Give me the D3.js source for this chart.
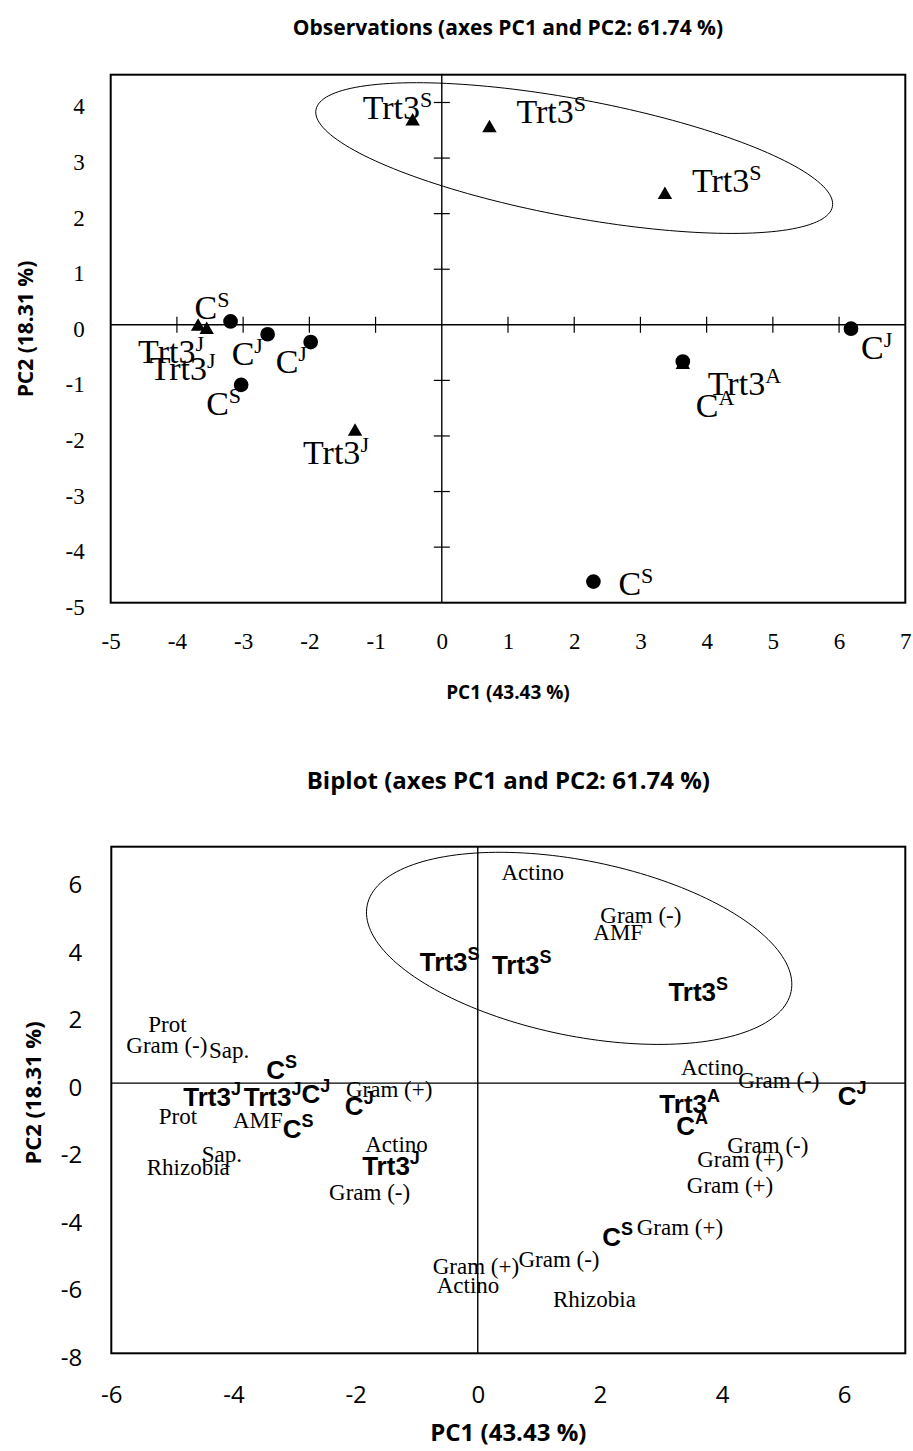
<!DOCTYPE html>
<html>
<head>
<meta charset="utf-8">
<script src="https://cdn.jsdelivr.net/npm/d3@7"></script>
<style>
  body { margin: 0; background: #fff; }
  .title { font-family: "Open Sans", sans-serif; font-weight: bold; }
</style>
</head>
<body>
<div id="chart"></div>
<script>
// ---- observations chart (PC1 / PC2 scores) ----
const obsNames = ['C','C','C','C','C','C','C','Trt3','Trt3','Trt3','Trt3','Trt3','Trt3','Trt3'];
const obsSup   = ['S','J','J','S','J','A','S','S','S','S','J','J','J','A'];
const obsPC1   = [-3.19,-2.63,-1.98,-3.03,6.18,3.64,2.29,-0.44,0.72,3.37,-3.68,-3.55,-1.31,3.64];
const obsPC2   = [0.06,-0.17,-0.31,-1.08,-0.07,-0.66,-4.62,3.66,3.54,2.34,-0.03,-0.09,-1.92,-0.72];
const obsShape = ['circle','circle','circle','circle','circle','circle','circle',
                  'triangle','triangle','triangle','triangle','triangle','triangle','triangle'];
// label placement (pixels from the point: start x, baseline y)
const obsLabelOffset = [[-36,-2],[-36,31],[-35,31],[-35,30],[10,30],[13,56],[25,13],
                        [-50,-2],[27,-5],[27,-3],[-60,37],[-57,50],[-52,32],[25,30]];

const obsTicksX = [-5,-4,-3,-2,-1,0,1,2,3,4,5,6,7];
const obsTicksY = [-5,-4,-3,-2,-1,0,1,2,3,4];
const obsEllipseCenter = [2.0, 3.0];
const obsEllipseAxes = [[3.9,-0.87],[-0.16,-1.04]];

// ---- biplot ----
const bipObsNames = ['C','Trt3','Trt3','C','C','C','Trt3','Trt3','Trt3','Trt3','Trt3','C','C','C'];
const bipObsSup   = ['S','J','J','J','J','S','J','S','S','S','A','A','J','S'];
const bipObsPC1   = [-3.21,-4.35,-3.36,-2.65,-1.94,-2.94,-1.42,-0.46,0.72,3.61,3.47,3.51,6.13,2.29];
const bipObsPC2   = [0.39,-0.40,-0.40,-0.32,-0.67,-1.36,-2.45,3.60,3.51,2.69,-0.62,-1.26,-0.38,-4.57];

const varNames = ['Prot','Gram (-)','Sap.','Gram (+)','Prot','AMF','Sap.','Rhizobia','Actino','Gram (-)',
                  'Gram (+)','Actino','Gram (-)','Gram (+)','Rhizobia','Gram (-)','Gram (+)','Gram (+)',
                  'Actino','Gram (-)','AMF','Actino','Gram (-)'];
const varPC1 = [-5.08,-5.09,-4.07,-1.45,-4.91,-3.60,-4.19,-4.74,-1.33,-1.77,
                -0.03,-0.16,1.33,3.31,1.91,4.75,4.30,4.13,
                0.90,2.67,2.30,3.84,4.93];
const varPC2 = [1.74,1.13,0.99,-0.17,-0.96,-1.10,-2.09,-2.49,-1.80,-3.23,
                -5.40,-5.99,-5.20,-4.26,-6.39,-1.84,-2.24,-3.03,
                6.24,4.98,4.47,0.47,0.08];

const bipTicksX = [-6,-4,-2,0,2,4,6];
const bipTicksY = [-8,-6,-4,-2,0,2,4,6];
const bipEllipseCenter = [1.66, 3.99];
const bipEllipseAxes = [[3.47,-1.28],[-0.29,-2.54]];

const width = 913, height = 1451;
const serif = '"Liberation Serif", "Times New Roman", serif';
const sans = '"Open Sans", sans-serif';

const svg = d3.select('#chart').append('svg')
    .attr('width', width).attr('height', height);

function ellipsePath(x, y, center, axes){
    let t = d3.range(0, 2*Math.PI + 0.01, Math.PI/90);
    return d3.line()
        .x(a => x(center[0] + axes[0][0]*Math.cos(a) + axes[1][0]*Math.sin(a)))
        .y(a => y(center[1] + axes[0][1]*Math.cos(a) + axes[1][1]*Math.sin(a)))(t);
}

// o: tick font/size/padding and title placement
function frame(g, x, y, ticksX, ticksY, o){
    let [x0, x1] = x.range(), [y0, y1] = y.range();

    // tick labels outside the frame
    g.append('g').attr('transform', `translate(0,${y0})`)
        .call(d3.axisBottom(x).tickValues(ticksX).tickSize(0).tickPadding(o.xPad).tickFormat(d => String(d)))
        .call(a => a.select('.domain').remove())
        .selectAll('text').style('font-family', o.tickFont).style('font-size', o.tickSize + 'px').attr('fill', '#000');
    g.append('g').attr('transform', `translate(${x0},0)`)
        .call(d3.axisLeft(y).tickValues(ticksY).tickSize(0).tickPadding(o.yPad).tickFormat(d => String(d)))
        .call(a => a.select('.domain').remove())
        .selectAll('text').style('font-family', o.tickFont).style('font-size', o.tickSize + 'px')
        .attr('fill', '#000').attr('dy', '0.5em');

    // inner axes through origin
    g.append('line').attr('x1', x0).attr('x2', x1).attr('y1', y(0)).attr('y2', y(0))
        .attr('stroke', '#000').attr('stroke-width', 1.4);
    g.append('line').attr('x1', x(0)).attr('x2', x(0)).attr('y1', y0).attr('y2', y1)
        .attr('stroke', '#000').attr('stroke-width', 1.4);

    g.append('rect').attr('x', x0).attr('y', y1).attr('width', x1-x0).attr('height', y0-y1)
        .attr('fill', 'none').attr('stroke', '#000').attr('stroke-width', 2);

    // titles
    g.append('text').attr('class', 'title').attr('x', (x0+x1)/2).attr('y', o.titleY)
        .attr('text-anchor', 'middle').style('font-size', o.titleSize + 'px').text(o.title);
    g.append('text').attr('class', 'title').attr('x', (x0+x1)/2).attr('y', o.xTitleY)
        .attr('text-anchor', 'middle').style('font-size', o.xTitleSize + 'px').text('PC1 (43.43 %)');
    g.append('text').attr('class', 'title')
        .attr('transform', `translate(${o.yTitleX},${o.yTitleMid})rotate(-90)`)
        .attr('text-anchor', 'middle').style('font-size', o.yTitleSize + 'px').text('PC2 (18.31 %)');
}

// ================= Observations =================
const xA = d3.scaleLinear([-5, 7], [110.7, 905.3]);
const yA = d3.scaleLinear([-5, 4.5], [602.7, 74.7]);
const gA = svg.append('g');
frame(gA, xA, yA, obsTicksX, obsTicksY, {
    tickFont: serif, tickSize: 23, xPad: 30, yPad: 26,
    title: 'Observations (axes PC1 and PC2: 61.74 %)', titleY: 35, titleSize: 21,
    xTitleY: 699, xTitleSize: 19, yTitleX: 33, yTitleMid: 329, yTitleSize: 21
});

// tick marks on the inner axes
gA.append('g').selectAll('line').data(obsTicksX.filter(d => d !== 0 && d > -5 && d < 7)).join('line')
    .attr('x1', d => xA(d)).attr('x2', d => xA(d))
    .attr('y1', yA(0) - 8).attr('y2', yA(0) + 8)
    .attr('stroke', '#000').attr('stroke-width', 1.2);
gA.append('g').selectAll('line').data(obsTicksY.filter(d => d !== 0 && d > -5)).join('line')
    .attr('x1', xA(0) - 8).attr('x2', xA(0) + 8)
    .attr('y1', d => yA(d)).attr('y2', d => yA(d))
    .attr('stroke', '#000').attr('stroke-width', 1.2);

gA.append('path').attr('d', ellipsePath(xA, yA, obsEllipseCenter, obsEllipseAxes))
    .attr('fill', 'none').attr('stroke', '#000').attr('stroke-width', 1);

const obsData = obsNames.map((n, i) => ({
    name: n, sup: obsSup[i], x: obsPC1[i], y: obsPC2[i], shape: obsShape[i], off: obsLabelOffset[i]
}));
// triangles first, circles drawn on top
const drawOrder = obsData.slice().sort((a, b) => (a.shape === 'triangle' ? 0 : 1) - (b.shape === 'triangle' ? 0 : 1));

gA.append('g').selectAll('path').data(drawOrder).join('path')
    .attr('transform', d => `translate(${xA(d.x)},${yA(d.y)})`)
    .attr('d', d => d3.symbol(d.shape === 'circle' ? d3.symbolCircle : d3.symbolTriangle,
                               d.shape === 'circle' ? 170 : 90)())
    .attr('fill', '#000');

const labA = gA.append('g').selectAll('text').data(obsData).join('text')
    .attr('x', d => xA(d.x) + d.off[0])
    .attr('y', d => yA(d.y) + d.off[1])
    .style('font-family', serif).style('font-size', '34px').attr('fill', '#000');
labA.append('tspan').text(d => d.name);
labA.append('tspan').attr('dy', -12).style('font-size', '22px').text(d => d.sup);

// ================= Biplot =================
const xB = d3.scaleLinear([-6, 7], [111.3, 905.3]);
const yB = d3.scaleLinear([-8, 7], [1353.3, 846.7]);
const gB = svg.append('g');
frame(gB, xB, yB, bipTicksX, bipTicksY, {
    tickFont: sans, tickSize: 24, xPad: 33, yPad: 29,
    title: 'Biplot (axes PC1 and PC2: 61.74 %)', titleY: 789, titleSize: 24,
    xTitleY: 1441, xTitleSize: 24, yTitleX: 41, yTitleMid: 1093, yTitleSize: 22
});

gB.append('path').attr('d', ellipsePath(xB, yB, bipEllipseCenter, bipEllipseAxes))
    .attr('fill', 'none').attr('stroke', '#000').attr('stroke-width', 1);

const varData = varNames.map((n, i) => ({ name: n, x: varPC1[i], y: varPC2[i] }));
gB.append('g').selectAll('text').data(varData).join('text')
    .attr('x', d => xB(d.x)).attr('y', d => yB(d.y))
    .attr('dy', '0.35em').attr('text-anchor', 'middle')
    .style('font-family', serif).style('font-size', '23px').attr('fill', '#000')
    .text(d => d.name);

const bipData = bipObsNames.map((n, i) => ({ name: n, sup: bipObsSup[i], x: bipObsPC1[i], y: bipObsPC2[i] }));
const labB = gB.append('g').selectAll('text').data(bipData).join('text')
    .attr('x', d => xB(d.x)).attr('y', d => yB(d.y) + 9)
    .attr('text-anchor', 'middle')
    .style('font-family', '"Liberation Sans", Arial, sans-serif').style('font-weight', 'bold')
    .style('font-size', '26px').attr('fill', '#000');
labB.append('tspan').text(d => d.name);
labB.append('tspan').attr('dy', -11).style('font-size', '18px').text(d => d.sup);
</script>
</body>
</html>
